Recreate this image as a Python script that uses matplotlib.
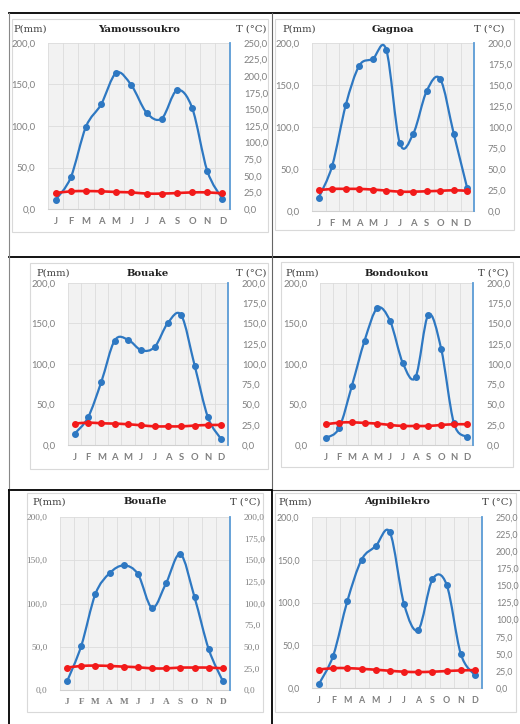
import matplotlib
matplotlib.use("Agg")
import matplotlib.pyplot as plt
import numpy as np
from matplotlib.path import Path
from matplotlib.patches import PathPatch, Rectangle
from matplotlib.lines import Line2D
from matplotlib.ticker import MultipleLocator, FuncFormatter

W, H = 520, 724

months = ["J", "F", "M", "A", "M", "J", "J", "A", "S", "O", "N", "D"]

names = ["Yamoussoukro", "Gagnoa", "Bouake", "Bondoukou", "Bouafle", "Agnibilekro"]

p_yam = [11, 38, 99, 126, 164, 149, 116, 109, 143, 122, 46, 12]
p_gag = [16, 54, 126, 173, 181, 192, 81, 92, 143, 157, 92, 27]
p_bke = [14, 34, 78, 129, 130, 117, 121, 151, 160, 98, 34, 7]
p_bdk = [9, 21, 73, 129, 169, 153, 101, 84, 161, 119, 27, 10]
p_bfl = [10, 51, 111, 135, 144, 134, 95, 124, 157, 107, 47, 10]
p_agn = [5, 38, 102, 150, 166, 182, 98, 68, 127, 121, 40, 15]

t_yam = [24.0, 26.6, 27.0, 26.6, 25.6, 25.0, 23.2, 23.2, 24.0, 25.0, 25.0, 23.5]
t_gag = [24.7, 26.3, 26.3, 26.3, 25.5, 24.3, 23.0, 23.0, 23.5, 24.0, 24.7, 24.0]
t_bke = [26.4, 27.6, 26.8, 26.4, 25.6, 24.3, 23.0, 23.0, 23.0, 24.0, 24.7, 24.7]
t_bdk = [25.6, 27.6, 28.0, 27.2, 26.4, 24.7, 23.5, 23.5, 23.5, 24.7, 25.6, 25.6]
t_bfl = [25.9, 27.8, 28.2, 27.8, 27.0, 26.3, 25.0, 25.0, 25.9, 25.9, 25.9, 25.0]
t_agn = [27.0, 29.0, 29.0, 28.0, 26.7, 25.2, 23.8, 23.3, 23.8, 24.8, 25.7, 26.2]

precip = [p_yam, p_gag, p_bke, p_bdk, p_bfl, p_agn]
temps = [t_yam, t_gag, t_bke, t_bdk, t_bfl, t_agn]
t_max = [250, 200, 200, 200, 200, 250]

# pixel layout: plot area (l, t, r, b) and chart frame (l, t, r, b)
plot_px = [(48, 43, 230, 209), (312, 43, 474, 211),
           (68, 283, 228, 445), (320, 283, 473, 445),
           (60, 517, 230, 690), (312, 517, 482, 688)]
frame_px = [(12, 19, 268, 232), (275, 19, 514, 230),
            (30, 263, 268, 469), (281, 262, 513, 467),
            (27, 493, 263, 712), (275, 493, 516, 712)]
head_y = [29, 29, 273, 273, 502, 502]
plabel_x = [13, 282, 36, 285, 32, 278]
tlabel_x = [267, 505, 267, 508, 260, 513]
tick_fonts = ["Lato", "Lato", "Lato", "Lato", "Liberation Serif", "Lato"]
tick_sizes = [6.8, 6.8, 6.8, 6.8, 6.7, 6.4]

blue = "#2E78C2"
red = "#F21A1A"
grey = "#808080"


def fbox(l, t, r, b):
    return [l / W, 1 - b / H, (r - l) / W, (b - t) / H]


def smooth_path(x, y):
    pts = np.column_stack([x, y]).astype(float)
    n = len(pts)
    verts = [pts[0]]
    codes = [Path.MOVETO]
    for i in range(n - 1):
        p0 = pts[max(i - 1, 0)]
        p1 = pts[i]
        p2 = pts[i + 1]
        p3 = pts[min(i + 2, n - 1)]
        verts += [p1 + (p2 - p0) / 6, p2 - (p3 - p1) / 6, p2]
        codes += [Path.CURVE4] * 3
    return Path(verts, codes)


comma = FuncFormatter(lambda v, pos: f"{v:.1f}".replace(".", ","))

fig = plt.figure(figsize=(W / 100, H / 100), dpi=100)

for k in range(6):
    tick_font = tick_fonts[k]
    tsize = tick_sizes[k]
    # chart frame
    fl, ft, fr, fb = frame_px[k]
    fig.add_artist(Rectangle((fl / W, 1 - fb / H), (fr - fl) / W, (fb - ft) / H,
                             transform=fig.transFigure, facecolor="white",
                             edgecolor="#D9D9D9", lw=0.8, zorder=0))

    ax = fig.add_axes(fbox(*plot_px[k]))
    ax.set_facecolor("#F2F2F2")
    x = np.arange(12)
    ax.set_xlim(-0.5, 11.5)
    ax.set_ylim(0, 200)
    ax.yaxis.set_major_locator(MultipleLocator(50))
    ax.yaxis.set_major_formatter(comma)
    ax.set_xticks(x)
    ax.set_xticklabels(months, fontfamily=tick_font, fontweight="bold")
    ax.set_xticks(np.arange(-0.5, 12, 0.5), minor=True)
    ax.grid(axis="x", which="minor", color="#DCDCDC", lw=0.6)
    ax.grid(axis="y", which="major", color="#DCDCDC", lw=0.6)
    ax.set_axisbelow(True)
    for s in ["left", "right", "top"]:
        ax.spines[s].set_visible(False)
    ax.spines["bottom"].set_color("#D0D0D0")
    ax.tick_params(axis="both", which="both", length=0, labelsize=tsize,
                   labelcolor=grey)
    ax.tick_params(axis="y", pad=9)
    ax.tick_params(axis="x", pad=6)
    for lab in ax.get_yticklabels():
        lab.set_fontfamily(tick_font)

    ax2 = ax.twinx()
    ax2.set_ylim(0, t_max[k])
    ax2.yaxis.set_major_locator(MultipleLocator(25))
    ax2.yaxis.set_major_formatter(comma)
    for s in ["left", "top", "bottom"]:
        ax2.spines[s].set_visible(False)
    ax2.spines["right"].set_color("#5B9BD5")
    ax2.spines["right"].set_linewidth(1.3)
    ax2.tick_params(axis="y", length=0, labelsize=tsize, labelcolor=grey,
                    pad=10)
    for lab in ax2.get_yticklabels():
        lab.set_fontfamily(tick_font)

    # precipitation (left axis)
    ax2.add_patch(PathPatch(smooth_path(x, precip[k]), facecolor="none",
                            edgecolor=blue, lw=1.6, transform=ax.transData,
                            zorder=3))
    ax2.plot(x, precip[k], "o", color=blue, ms=4, transform=ax.transData,
             zorder=4)
    # temperature (right axis)
    ax2.add_patch(PathPatch(smooth_path(x, temps[k]), facecolor="none",
                            edgecolor=red, lw=1.9, zorder=5))
    ax2.plot(x, temps[k], "o", color=red, ms=4, zorder=6)

    # headers
    pl, pt, pr, pb = plot_px[k]
    fig.text((pl + pr) / 2 / W, 1 - head_y[k] / H, names[k], ha="center",
             va="center", fontfamily="DejaVu Serif", fontweight="bold",
             fontsize=7.2, color="#202020")
    fig.text(plabel_x[k] / W, 1 - head_y[k] / H, "P(mm)", ha="left",
             va="center", fontfamily="DejaVu Serif", fontsize=7.2,
             color="#404040")
    fig.text(tlabel_x[k] / W, 1 - head_y[k] / H, "T (°C)", ha="right",
             va="center", fontfamily="DejaVu Serif", fontsize=7.2,
             color="#404040")

# table lines
def hline(y, x0, x1, color="black", lw=1.3):
    fig.add_artist(Line2D([x0 / W, x1 / W], [1 - y / H, 1 - y / H],
                          transform=fig.transFigure, color=color, lw=lw))


def vline(x, y0, y1, color="black", lw=1.3):
    fig.add_artist(Line2D([x / W, x / W], [1 - y0 / H, 1 - y1 / H],
                          transform=fig.transFigure, color=color, lw=lw))


hline(13, 9, 520)
hline(257, 9, 520)
hline(490, 9, 272)
hline(490, 272, 520, color="#555555", lw=0.8)
vline(9, 13, 490, color="#888888", lw=0.8)
vline(272, 13, 490, color="#666666", lw=0.8)
vline(9, 490, 724)
vline(272, 490, 724)

fig.savefig("out.png", dpi=100)
